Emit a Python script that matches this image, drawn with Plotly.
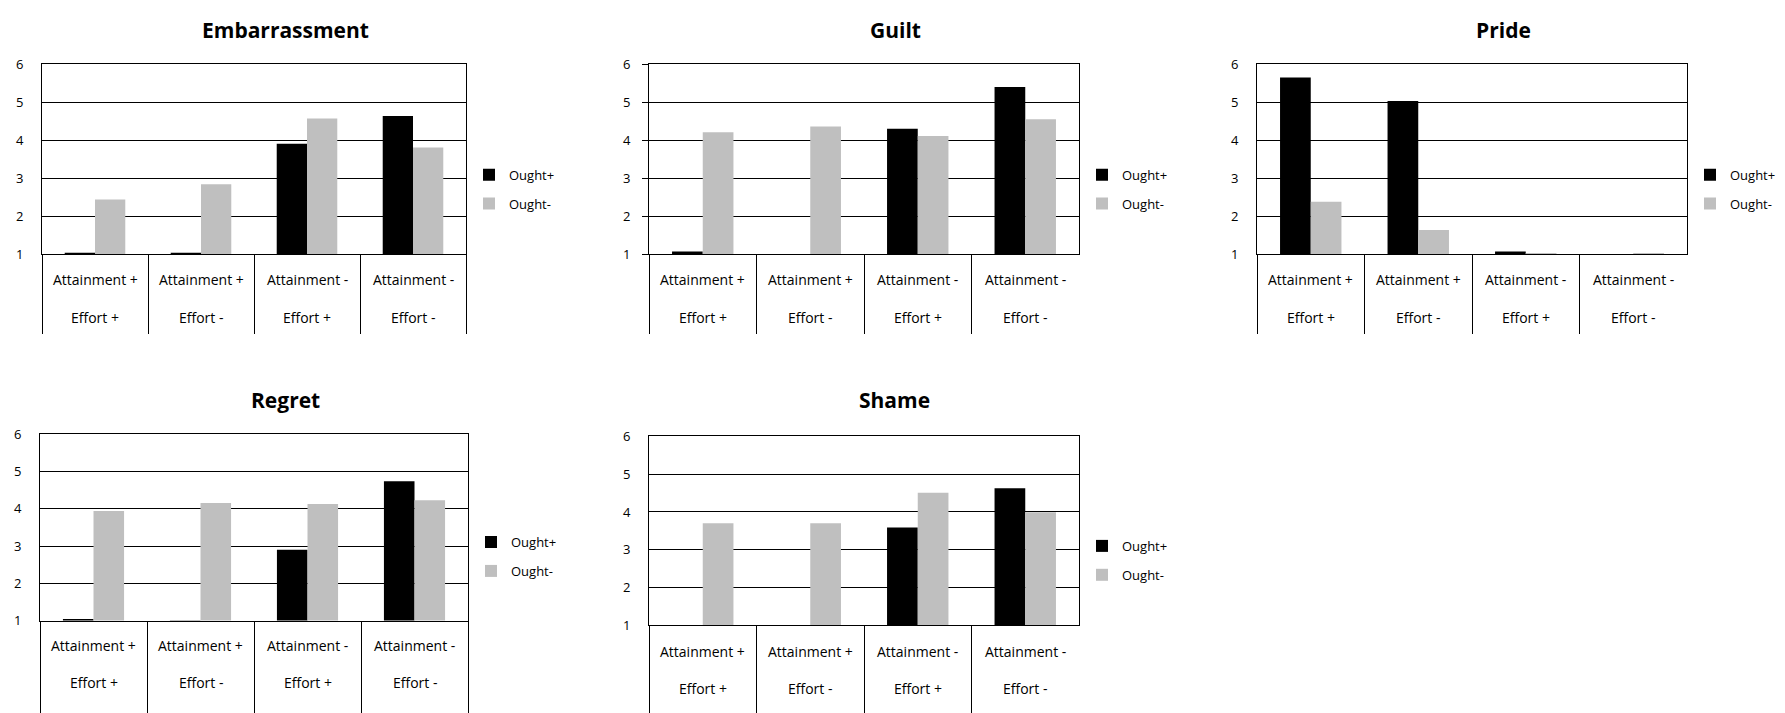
import plotly.graph_objects as go

# ---------------- data ----------------
attainment_labels = ["Attainment +", "Attainment +", "Attainment -", "Attainment -"]
effort_labels = ["Effort +", "Effort -", "Effort +", "Effort -"]
series_names = ["Ought+", "Ought-"]

embarrassment_ought_pos = [1.04, 1.04, 3.91, 4.64]
embarrassment_ought_neg = [2.44, 2.84, 4.57, 3.81]
guilt_ought_pos = [1.07, 1.00, 4.30, 5.40]
guilt_ought_neg = [4.21, 4.36, 4.11, 4.55]
pride_ought_pos = [5.65, 5.03, 1.07, 1.00]
pride_ought_neg = [2.38, 1.64, 1.03, 1.03]
regret_ought_pos = [1.04, 1.00, 2.90, 4.74]
regret_ought_neg = [3.94, 4.16, 4.13, 4.23]
shame_ought_pos = [1.00, 1.00, 3.59, 4.63]
shame_ought_neg = [3.70, 3.70, 4.51, 3.99]

y_ticks = [1, 2, 3, 4, 5, 6]

categories = [f"{a}|{e}" for a, e in zip(attainment_labels, effort_labels)]

# ---------------- layout geometry (pixels) ----------------
W, H = 1785, 713
FONT = "Open Sans"
panels = [
    # title, pos, neg, plot box (x0, x1, ytop, ybot), title center (x, y), legend (x, ycenter), label offsets, y tick length
    ("Embarrassment", embarrassment_ought_pos, embarrassment_ought_neg, (42, 466, 57, 253), (285, 22), (469, 186), (26, 65), 0),
    ("Guilt", guilt_ought_pos, guilt_ought_neg, (649, 1079, 57, 253), (895, 22), (1082, 186), (26, 65), 6),
    ("Pride", pride_ought_pos, pride_ought_neg, (1257, 1687, 57, 253), (1503, 22), (1690, 186), (26, 65), 0),
    ("Regret", regret_ought_pos, regret_ought_neg, (40, 468, 439, 631), (285, 403), (471, 565), (25.5, 64), 0),
    ("Shame", shame_ought_pos, shame_ought_neg, (649, 1079, 441, 636), (894, 403), (1082, 569), (26.5, 65.5), 0),
]

def px_x(v):
    return v / W

def px_y(v):
    return 1 - v / H

fig = go.Figure()
annotations = []
layout_extra = {}

for i, (title, pos, neg, box, tpos, lpos, offs, ytl) in enumerate(panels, start=1):
    sfx = "" if i == 1 else str(i)
    xa, ya, lg = f"x{sfx}", f"y{sfx}", f"legend{sfx}"
    x0, x1, yt, yb = box
    for name, vals, color in ((series_names[0], pos, "#000000"), (series_names[1], neg, "#BFBFBF")):
        fig.add_trace(go.Bar(
            x=categories, y=vals, name=name, marker_color=color, marker_line_width=0,
            xaxis=xa, yaxis=ya, legend=lg, legendgroup=f"{i}{name}", hoverinfo="y+name",
        ))
    layout_extra[f"xaxis{sfx}"] = dict(
        domain=[px_x(x0), px_x(x1)], anchor=ya, type="category",
        showline=True, linecolor="black", linewidth=1, mirror=True,
        ticks="outside", tickson="boundaries", ticklen=(H - yb + 10) if yb > 400 else 79,
        tickcolor="black", tickwidth=1, showticklabels=False, showgrid=False, fixedrange=True,
    )
    layout_extra[f"yaxis{sfx}"] = dict(
        domain=[px_y(yb), px_y(yt)], anchor=xa, range=[1, 6], tickvals=y_ticks,
        showline=True, linecolor="black", linewidth=1, mirror=True,
        showgrid=True, gridcolor="black", gridwidth=1, zeroline=False,
        ticks="outside" if ytl else "", ticklen=ytl, tickcolor="black", tickwidth=1,
        ticklabelstandoff=15 - ytl, tickfont=dict(family=FONT, size=13, color="black"), fixedrange=True,
    )
    layout_extra[lg] = dict(
        x=px_x(lpos[0]), y=px_y(lpos[1]), xanchor="left", yanchor="middle",
        traceorder="grouped", tracegroupgap=9, bgcolor="rgba(0,0,0,0)",
        font=dict(family=FONT, size=13, color="black"), itemclick=False, itemdoubleclick=False,
    )
    annotations.append(dict(
        text=f"<b>{title}</b>", x=px_x(tpos[0]), y=px_y(tpos[1]), xref="paper", yref="paper",
        xanchor="center", yanchor="middle", showarrow=False,
        font=dict(family=FONT, size=21, color="black"),
    ))
    for cat, a, e in zip(categories, attainment_labels, effort_labels):
        for txt, off in ((a, offs[0]), (e, offs[1])):
            annotations.append(dict(
                text=txt, x=cat, xref=xa, y=px_y(yb + off), yref="paper",
                xanchor="center", yanchor="middle", showarrow=False,
                font=dict(family=FONT, size=14, color="black"),
            ))

fig.update_layout(
    width=W, height=H, margin=dict(l=0, r=0, t=0, b=0),
    paper_bgcolor="white", plot_bgcolor="white",
    barmode="group", bargap=0.4286, bargroupgap=0,
    annotations=annotations, showlegend=True,
    **layout_extra,
)

fig.write_html(
    "out.html",
    config={"displayModeBar": False},
    post_script="document.body.style.margin='0px';document.body.style.overflow='hidden';",
)
